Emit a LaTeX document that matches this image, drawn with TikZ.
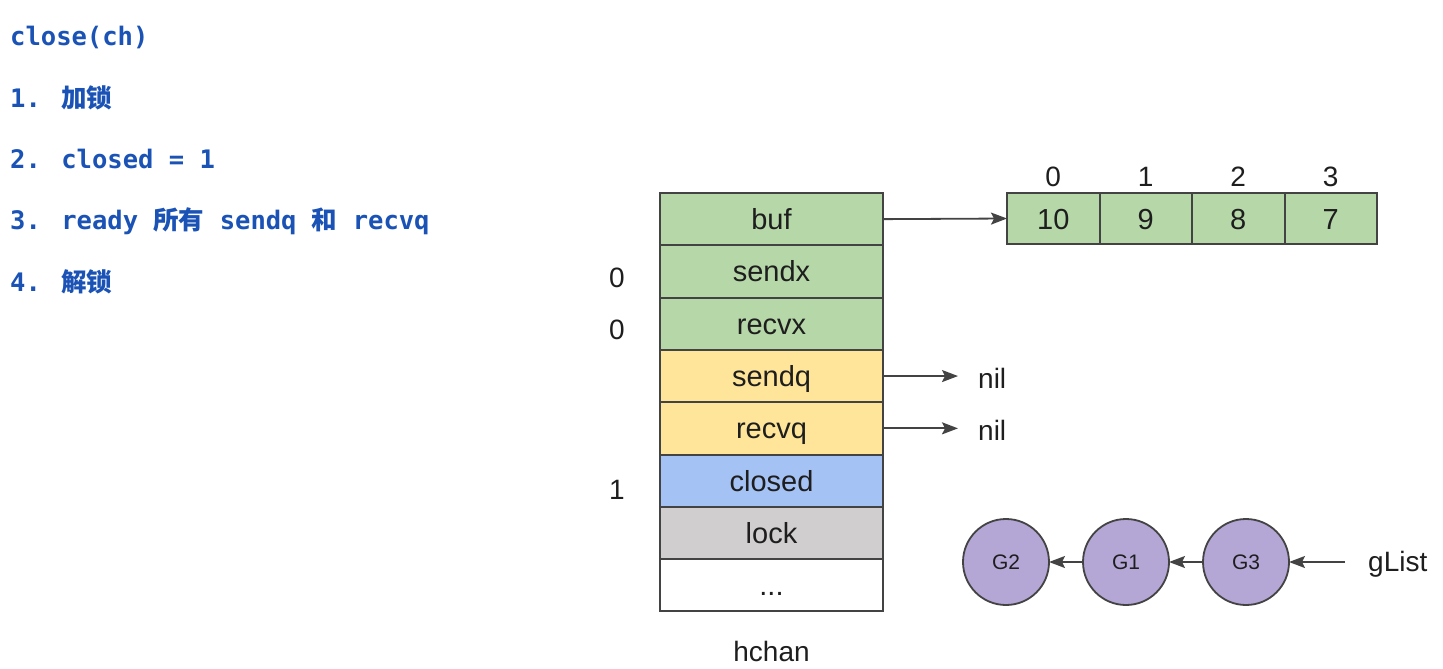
\documentclass[tikz,border=0pt]{standalone}
\usepackage{fontspec}
\setmainfont{Liberation Sans}
\newfontfamily\codefont{DejaVu Sans Mono}
\newfontfamily\cjkfont{Noto Sans CJK SC}
\usetikzlibrary{arrows.meta}
\definecolor{codeblue}{HTML}{1A53B5}
\definecolor{fgreen}{HTML}{B6D7A8}
\definecolor{fyellow}{HTML}{FFE599}
\definecolor{fblue}{HTML}{A4C2F4}
\definecolor{fgray}{HTML}{D0CECF}
\definecolor{fpurple}{HTML}{B4A7D6}
\definecolor{edge}{HTML}{434343}
\definecolor{ink}{HTML}{1E1E1E}
\newcommand{\cj}[1]{{\cjkfont\bfseries #1}}
\begin{document}
\begin{tikzpicture}[x=1pt,y=-1pt,
  codeline/.style={anchor=base west,inner sep=0,text=codeblue,font=\codefont\bfseries\fontsize{25.5}{30}\selectfont},
  field/.style={draw=edge,line width=2pt,minimum width=223pt,minimum height=52.3pt,inner sep=0,outer sep=0,text height=21pt,text depth=0pt,text=ink,font=\fontsize{29}{34}\selectfont},
  cell/.style={draw=edge,line width=2pt,fill=fgreen,minimum width=92.5pt,minimum height=51pt,inner sep=0,outer sep=0,text height=21pt,text depth=0pt,text=ink,font=\fontsize{29}{34}\selectfont},
  lbl/.style={inner sep=0,text=ink,font=\fontsize{28}{34}\selectfont},
  gnode/.style={circle,draw=edge,line width=1.8pt,fill=fpurple,minimum size=86pt,inner sep=0,outer sep=0,text=ink,font=\fontsize{21}{25}\selectfont},
  ptr/.style={draw=edge,line width=1.8pt,-{Stealth[length=16pt,width=12pt,inset=3pt]}}
]
\useasboundingbox[fill=white] (0,0) rectangle (1443,669);

% left text
\node[codeline] (t0) at (10,46) {close(ch)};
\node[codeline] (t1) at (10,107) {1. \cj{加锁}};
\node[codeline] (t2) at (10,168) {2. closed = 1};
\node[codeline] (t3) at (10,229) {3. ready \cj{所有} sendq \cj{和} recvq};
\node[codeline] (t4) at (10,291) {4. \cj{解锁}};

% hchan fields
\node[field,fill=fgreen]  (buf)    at (771.5,219.15) {buf};
\node[field,fill=fgreen]  (sendx)  at (771.5,271.45) {sendx};
\node[field,fill=fgreen]  (recvx)  at (771.5,323.75) {recvx};
\node[field,fill=fyellow] (sendq)  at (771.5,376.05) {sendq};
\node[field,fill=fyellow] (recvq)  at (771.5,428.35) {recvq};
\node[field,fill=fblue]   (closed) at (771.5,480.65) {closed};
\node[field,fill=fgray]   (lock)   at (771.5,532.95) {lock};
\node[field,fill=white]   (more)   at (771.5,585.25) {...};
\node[lbl] (hchan) at (771.5,651) {hchan};

\node[lbl] (vsendx)  at (617,278) {0};
\node[lbl] (vrecvx)  at (617,330) {0};
\node[lbl] (vclosed) at (617,490) {1};

% buffer array
\node[cell] (c0) at (1053.25,218.5) {10};
\node[cell] (c1) at (1145.75,218.5) {9};
\node[cell] (c2) at (1238.25,218.5) {8};
\node[cell] (c3) at (1330.75,218.5) {7};
\node[lbl] (i0) at (1053.25,177) {0};
\node[lbl] (i1) at (1145.75,177) {1};
\node[lbl] (i2) at (1238.25,177) {2};
\node[lbl] (i3) at (1330.75,177) {3};
\draw[ptr] (buf.east) -- (c0.west);

% nil pointers
\node[lbl,anchor=west] (nil1) at (978,378) {nil};
\node[lbl,anchor=west] (nil2) at (978,430) {nil};
\draw[ptr] (sendq.east) -- ([xshift=-20pt]nil1.west |- sendq.east);
\draw[ptr] (recvq.east) -- ([xshift=-20pt]nil2.west |- recvq.east);

% goroutine list
\node[gnode] (g2) at (1006,562) {G2};
\node[gnode] (g1) at (1126,562) {G1};
\node[gnode] (g3) at (1246,562) {G3};
\node[lbl,anchor=west] (glist) at (1368,564) {gList};
\draw[ptr] (g1.west) -- (g2.east);
\draw[ptr] (g3.west) -- (g1.east);
\draw[ptr] ([xshift=-23pt]glist.west |- g3.east) -- (g3.east);
\end{tikzpicture}
\end{document}
